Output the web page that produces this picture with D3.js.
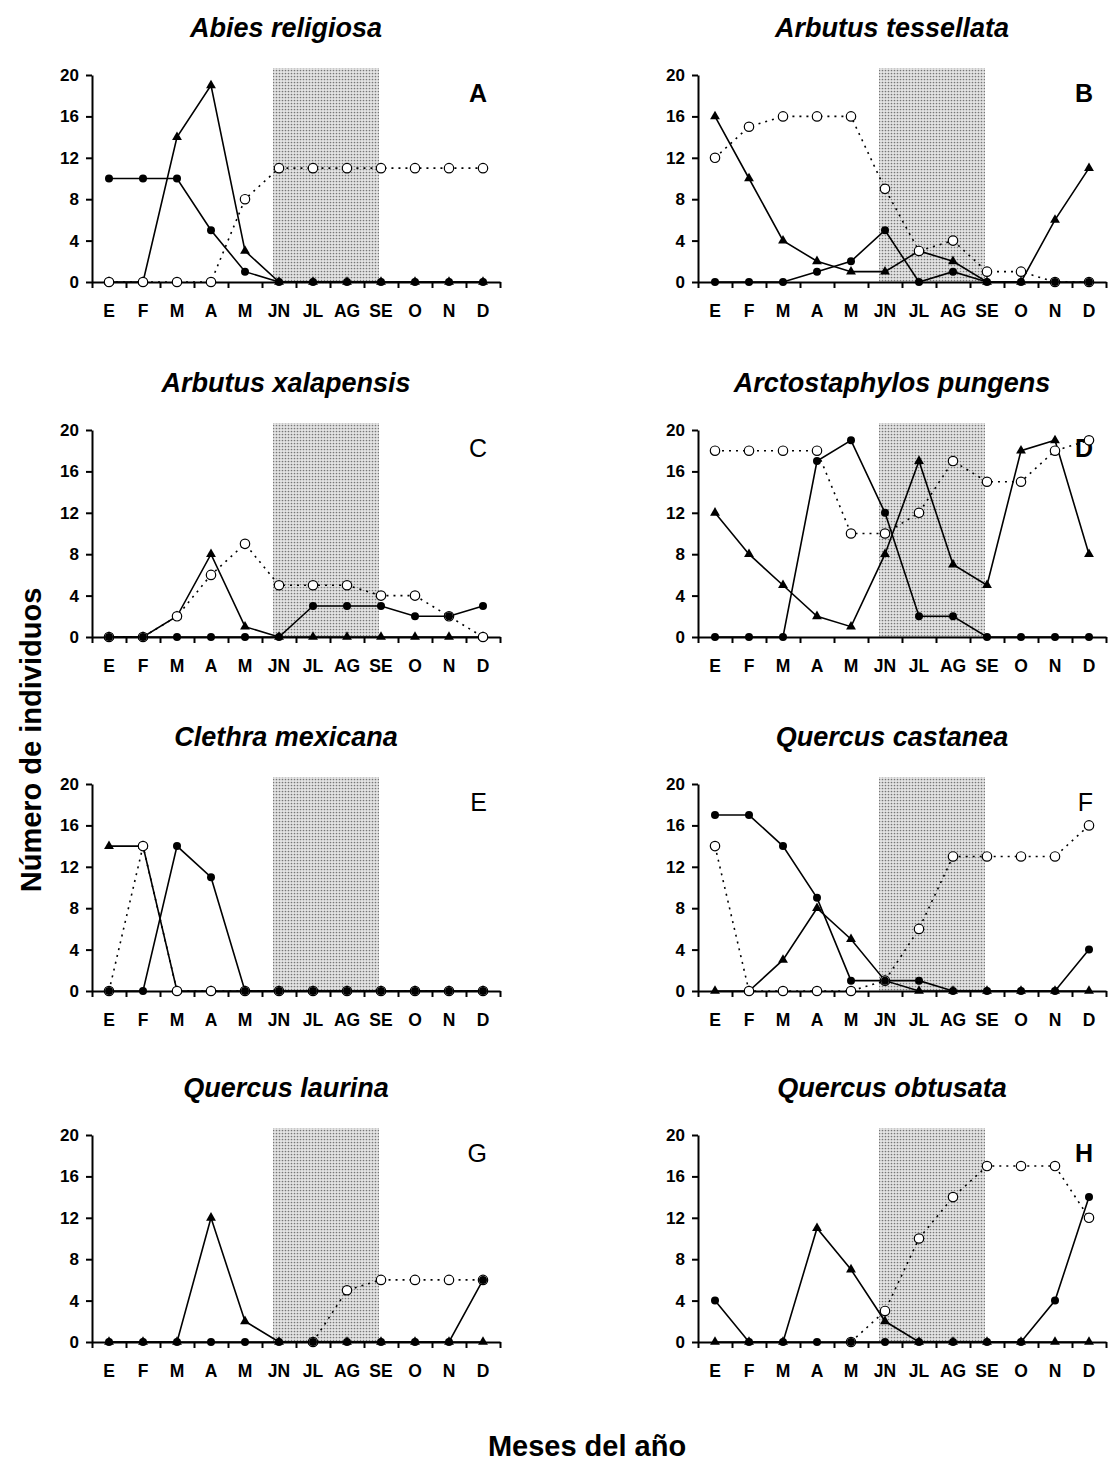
<!DOCTYPE html>
<html>
<head>
<meta charset="utf-8">
<script src="https://cdn.jsdelivr.net/npm/d3@7"></script>
<style>
  body { margin: 0; background: #fff; }
  svg { display: block; font-family: Arial, "Liberation Sans", sans-serif; }
</style>
</head>
<body>
<svg id="chart" width="1112" height="1471"></svg>
<script>
// month labels (x axis)
var months = ["E", "F", "M", "A", "M", "JN", "JL", "AG", "SE", "O", "N", "D"];
var yTicks = [0, 4, 8, 12, 16, 20];
// shaded season: from JN to SE
var shadeFrom = 5, shadeTo = 8;

var titles = ["Abies religiosa", "Arbutus tessellata", "Arbutus xalapensis", "Arctostaphylos pungens",
              "Clethra mexicana", "Quercus castanea", "Quercus laurina", "Quercus obtusata"];
var letters = ["A", "B", "C", "D", "E", "F", "G", "H"];

// triangles, solid line
var triA = [0, 0, 14, 19, 3, 0, 0, 0, 0, 0, 0, 0];
var triB = [16, 10, 4, 2, 1, 1, 3, 2, 0, 0, 6, 11];
var triC = [0, 0, 2, 8, 1, 0, 0, 0, 0, 0, 0, 0];
var triD = [12, 8, 5, 2, 1, 8, 17, 7, 5, 18, 19, 8];
var triE = [14, 14, 0, 0, 0, 0, 0, 0, 0, 0, 0, 0];
var triF = [0, 0, 3, 8, 5, 1, 0, 0, 0, 0, 0, 0];
var triG = [0, 0, 0, 12, 2, 0, 0, 0, 0, 0, 0, 0];
var triH = [0, 0, 0, 11, 7, 2, 0, 0, 0, 0, 0, 0];

// filled circles, solid line
var dotA = [10, 10, 10, 5, 1, 0, 0, 0, 0, 0, 0, 0];
var dotB = [0, 0, 0, 1, 2, 5, 0, 1, 0, 0, 0, 0];
var dotC = [0, 0, 0, 0, 0, 0, 3, 3, 3, 2, 2, 3];
var dotD = [0, 0, 0, 17, 19, 12, 2, 2, 0, 0, 0, 0];
var dotE = [0, 0, 14, 11, 0, 0, 0, 0, 0, 0, 0, 0];
var dotF = [17, 17, 14, 9, 1, 1, 1, 0, 0, 0, 0, 4];
var dotG = [0, 0, 0, 0, 0, 0, 0, 0, 0, 0, 0, 6];
var dotH = [4, 0, 0, 0, 0, 0, 0, 0, 0, 0, 4, 14];

// open circles, dotted line (null = not recorded)
var openA = [0, 0, 0, 0, 8, 11, 11, 11, 11, 11, 11, 11];
var openB = [12, 15, 16, 16, 16, 9, 3, 4, 1, 1, 0, 0];
var openC = [0, 0, 2, 6, 9, 5, 5, 5, 4, 4, 2, 0];
var openD = [18, 18, 18, 18, 10, 10, 12, 17, 15, 15, 18, 19];
var openE = [0, 14, 0, 0, 0, 0, 0, 0, 0, 0, 0, 0];
var openF = [14, 0, 0, 0, 0, 1, 6, 13, 13, 13, 13, 16];
var openG = [null, null, null, null, null, null, 0, 5, 6, 6, 6, 6];
var openH = [null, null, null, null, 0, 3, 10, 14, 17, 17, 17, 12];

var triSeries = [triA, triB, triC, triD, triE, triF, triG, triH];
var dotSeries = [dotA, dotB, dotC, dotD, dotE, dotF, dotG, dotH];
var openSeries = [openA, openB, openC, openD, openE, openF, openG, openH];

// layout
var colLeft = [92, 698];
var rowTop = [75, 430, 784, 1135];
var w = 408, h = 207;
var boldLetter = { A: true, B: true, D: true, H: true };
var fontFam = "Arial, 'Liberation Sans', sans-serif";

var svg = d3.select("#chart");

// stipple pattern for the shaded season
var pat = svg.append("defs").append("pattern")
    .attr("id", "stipple")
    .attr("width", 3).attr("height", 3)
    .attr("patternUnits", "userSpaceOnUse");
pat.append("rect").attr("width", 3).attr("height", 3).attr("fill", "#e4e4e4");
pat.append("circle").attr("cx", 1.5).attr("cy", 1.5).attr("r", 0.85).attr("fill", "#777");

var xBand = d3.scaleBand().domain(d3.range(12)).range([0, w]);
var xEdge = d3.scaleLinear().domain([0, 12]).range([0, w]);
var yScale = d3.scaleLinear().domain([0, 20]).range([h, 0]);
var xc = function (i) { return xBand(i) + xBand.bandwidth() / 2; };
var has = function (d) { return d !== null; };

titles.forEach(function (title, p) {
    var g = svg.append("g")
        .attr("transform", "translate(" + colLeft[p % 2] + "," + rowTop[Math.floor(p / 2)] + ")");

    // shaded season
    g.append("rect")
        .attr("x", xc(shadeFrom) - 6)
        .attr("y", yScale(20) - 7)
        .attr("width", xc(shadeTo) - xc(shadeFrom) + 4)
        .attr("height", h + 7)
        .attr("fill", "url(#stipple)");

    // title
    g.append("text")
        .attr("x", w / 2 - 10)
        .attr("y", -38)
        .attr("text-anchor", "middle")
        .attr("font-size", "27px")
        .attr("font-weight", "bold")
        .attr("font-style", "italic")
        .text(title);

    // panel letter
    g.append("text")
        .attr("x", w - 13)
        .attr("y", 27)
        .attr("text-anchor", "end")
        .attr("font-size", "25px")
        .attr("font-weight", boldLetter[letters[p]] ? "bold" : "normal")
        .text(letters[p]);

    // y axis
    var yAxis = g.append("g")
        .call(d3.axisLeft(yScale).tickValues(yTicks).tickSize(6).tickSizeOuter(0).tickPadding(7));
    yAxis.selectAll("text").attr("font-size", "17px").attr("font-weight", "bold").attr("fill", "#000")
        .attr("font-family", fontFam);

    // x axis: ticks at band edges, labels at band centres
    g.append("g")
        .attr("transform", "translate(0," + h + ")")
        .call(d3.axisBottom(xEdge).ticks(12).tickSize(6).tickSizeOuter(0).tickFormat(""));
    var xLab = g.append("g")
        .attr("transform", "translate(0," + h + ")")
        .call(d3.axisBottom(xBand).tickSize(0).tickPadding(23).tickFormat(function (i) { return months[i]; }));
    xLab.select(".domain").remove();
    xLab.selectAll("text").attr("font-size", "17.5px").attr("font-weight", "bold").attr("fill", "#000")
        .attr("font-family", fontFam);
    g.selectAll(".domain, .tick line").attr("stroke", "#000").attr("stroke-width", 2);

    var line = d3.line()
        .defined(has)
        .x(function (d, i) { return xc(i); })
        .y(function (d) { return yScale(d); });

    // open circles, dotted line
    g.append("path")
        .datum(openSeries[p])
        .attr("d", line)
        .attr("fill", "none")
        .attr("stroke", "#000")
        .attr("stroke-width", 1.6)
        .attr("stroke-dasharray", "2,5");

    // solid lines
    [triSeries[p], dotSeries[p]].forEach(function (s) {
        g.append("path")
            .datum(s)
            .attr("d", line)
            .attr("fill", "none")
            .attr("stroke", "#000")
            .attr("stroke-width", 1.6);
    });

    g.selectAll(".tri")
        .data(triSeries[p])
        .enter().append("path")
        .attr("class", "tri")
        .attr("d", d3.symbol(d3.symbolTriangle, 42))
        .attr("transform", function (d, i) { return "translate(" + xc(i) + "," + yScale(d) + ")"; })
        .attr("fill", "#000");

    g.selectAll(".open")
        .data(openSeries[p].map(function (v, i) { return { v: v, i: i }; }).filter(function (d) { return has(d.v); }))
        .enter().append("circle")
        .attr("class", "open")
        .attr("cx", function (d) { return xc(d.i); })
        .attr("cy", function (d) { return yScale(d.v); })
        .attr("r", 4.7)
        .attr("fill", "#fff")
        .attr("stroke", "#000")
        .attr("stroke-width", 1.2);

    g.selectAll(".dot")
        .data(dotSeries[p])
        .enter().append("circle")
        .attr("class", "dot")
        .attr("cx", function (d, i) { return xc(i); })
        .attr("cy", function (d) { return yScale(d); })
        .attr("r", 4)
        .attr("fill", "#000");
});

// shared axis titles
svg.append("text")
    .attr("transform", "translate(41,740) rotate(-90)")
    .attr("text-anchor", "middle")
    .attr("font-size", "29px")
    .attr("font-weight", "bold")
    .text("Número de individuos");

svg.append("text")
    .attr("x", 587)
    .attr("y", 1456)
    .attr("text-anchor", "middle")
    .attr("font-size", "29px")
    .attr("font-weight", "bold")
    .text("Meses del año");
</script>
</body>
</html>
